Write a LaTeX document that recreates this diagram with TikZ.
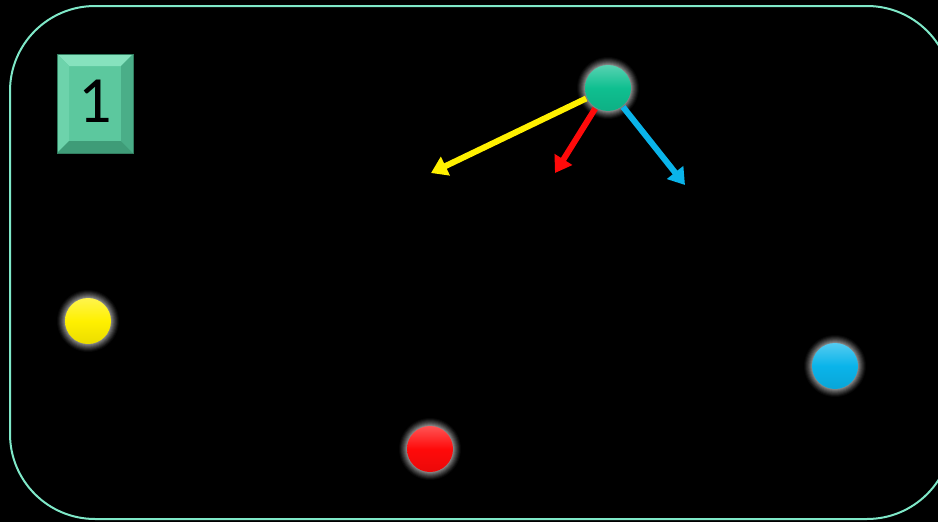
\documentclass[tikz,border=0pt]{standalone}
\usepackage{fontspec}
\setmainfont{Carlito}
\usetikzlibrary{arrows.meta}
\definecolor{frameC}{HTML}{7FE8C8}
\definecolor{faceC}{HTML}{5CC89E}
\definecolor{topC}{HTML}{86E2BE}
\definecolor{leftC}{HTML}{6DD3AB}
\definecolor{rightC}{HTML}{4AAE88}
\definecolor{botC}{HTML}{3F9C78}
\definecolor{tealC}{HTML}{0FBF90}
\definecolor{yellowC}{HTML}{FFF000}
\definecolor{redC}{HTML}{FF0A0A}
\definecolor{blueC}{HTML}{0AB4EA}
\tikzset{
  ballnode/.style={circle, minimum size=46pt, inner sep=0pt, shading=axis,
    top color=#1!70!white, bottom color=#1!92!black, middle color=#1},
  flow/.style={line width=6pt, draw=#1, -{Triangle[length=16pt,width=20pt]}, shorten <=1pt},
}
\begin{document}
\begin{tikzpicture}[x=1pt,y=-1pt]
\fill[black] (0,0) rectangle (938,522);
\useasboundingbox (0,0) rectangle (938,522);
% frame
\draw[frameC, line width=2pt, rounded corners=85pt] (10,6) rectangle (952,519);
% bevel box
\fill[faceC] (57,54) rectangle (133,153);
\fill[topC] (57,54) -- (133,54) -- (121,66) -- (69,66) -- cycle;
\fill[leftC] (57,54) -- (69,66) -- (69,141) -- (57,153) -- cycle;
\fill[rightC] (133,54) -- (133,153) -- (121,141) -- (121,66) -- cycle;
\fill[botC] (57,153) -- (69,141) -- (121,141) -- (133,153) -- cycle;
\draw[botC!80!black, line width=0.8pt] (57,54) rectangle (133,153);
\node[font=\fontsize{66}{66}\selectfont, text=black] (num) at (95,101) {1};
% ball centres
\coordinate (tc) at (608,88);
\coordinate (yc) at (88,321);
\coordinate (rc) at (430,449);
\coordinate (bc) at (835,366);
% glows
\foreach \c in {tc,yc,rc,bc}{
  \foreach \i in {0,...,9}{
    \pgfmathsetmacro{\p}{int(round(58*(\i/9)^1.3))}
    \fill[white!\p!black] (\c) circle ({32-\i});
  }
}
% balls
\node[ballnode=tealC] (teal) at (tc) {};
\node[ballnode=yellowC] (yellow) at (yc) {};
\node[ballnode=redC] (red) at (rc) {};
\node[ballnode=blueC] (blue) at (bc) {};
% arrow tips
\coordinate (ytip) at (431,173);
\coordinate (rtip) at (555,173);
\coordinate (btip) at (685,185);
\draw[flow=yellowC] (teal) -- (ytip);
\draw[flow=redC] (teal) -- (rtip);
\draw[flow=blueC] (teal) -- (btip);
\end{tikzpicture}
\end{document}
